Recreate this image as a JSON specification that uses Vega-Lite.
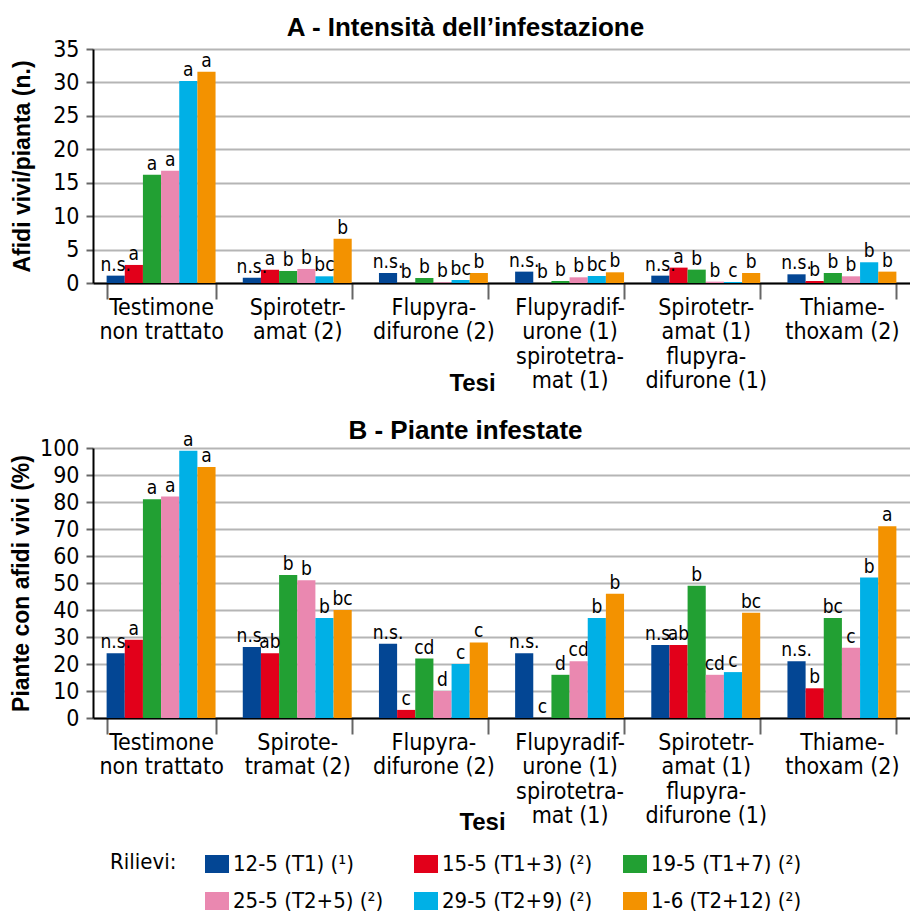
{
  "$schema": "https://vega.github.io/schema/vega-lite/v6.json",
  "padding": {"left": 10, "top": 15, "right": 0, "bottom": 0},
  "background": "white",
  "spacing": 22,
  "config": {
    "font": "DejaVu Sans Condensed",
    "view": {"stroke": null},
    "axis": {
      "labelFont": "DejaVu Sans Condensed",
      "titleFont": "Liberation Sans",
      "labelColor": "black",
      "titleColor": "black",
      "titleFontWeight": "bold",
      "domainColor": "black",
      "domainWidth": 2,
      "tickColor": "#666666",
      "tickWidth": 2,
      "gridColor": "#b5b5b5",
      "gridWidth": 2
    },
    "axisX": {
      "labelFontSize": 23,
      "titleFontSize": 24,
      "tickBand": "extent",
      "tickSize": 16,
      "labelAngle": 0,
      "labelPadding": -3,
      "labelBaseline": "top",
      "labelLineHeight": 24.5,
      "labelExpr": "datum.value ? split(datum.value, '|') : ''",
      "grid": false
    },
    "axisY": {
      "labelFontSize": 23,
      "titleFontSize": 23,
      "tickSize": 7,
      "labelPadding": 7,
      "grid": true
    },
    "title": {
      "font": "Liberation Sans",
      "fontSize": 26,
      "fontWeight": "bold",
      "color": "black",
      "anchor": "middle"
    }
  },
  "datasets": {
    "A": [
      {"Tesi": "Testimone|non trattato", "Rilievo": "12-5 (T1) (¹)", "v": 1.1, "sig": "n.s."},
      {"Tesi": "Testimone|non trattato", "Rilievo": "15-5 (T1+3) (²)", "v": 2.7, "sig": "a"},
      {"Tesi": "Testimone|non trattato", "Rilievo": "19-5 (T1+7) (²)", "v": 16.2, "sig": "a"},
      {"Tesi": "Testimone|non trattato", "Rilievo": "25-5 (T2+5) (²)", "v": 16.8, "sig": "a"},
      {"Tesi": "Testimone|non trattato", "Rilievo": "29-5 (T2+9) (²)", "v": 30.2, "sig": "a"},
      {"Tesi": "Testimone|non trattato", "Rilievo": "1-6 (T2+12) (²)", "v": 31.6, "sig": "a"},
      {"Tesi": "Spirotetr-|amat (2)", "Rilievo": "12-5 (T1) (¹)", "v": 0.8, "sig": "n.s."},
      {"Tesi": "Spirotetr-|amat (2)", "Rilievo": "15-5 (T1+3) (²)", "v": 2.0, "sig": "a"},
      {"Tesi": "Spirotetr-|amat (2)", "Rilievo": "19-5 (T1+7) (²)", "v": 1.8, "sig": "b"},
      {"Tesi": "Spirotetr-|amat (2)", "Rilievo": "25-5 (T2+5) (²)", "v": 2.1, "sig": "b"},
      {"Tesi": "Spirotetr-|amat (2)", "Rilievo": "29-5 (T2+9) (²)", "v": 1.0, "sig": "bc"},
      {"Tesi": "Spirotetr-|amat (2)", "Rilievo": "1-6 (T2+12) (²)", "v": 6.6, "sig": "b"},
      {"Tesi": "Flupyra-|difurone (2)", "Rilievo": "12-5 (T1) (¹)", "v": 1.5, "sig": "n.s."},
      {"Tesi": "Flupyra-|difurone (2)", "Rilievo": "15-5 (T1+3) (²)", "v": 0, "sig": "b"},
      {"Tesi": "Flupyra-|difurone (2)", "Rilievo": "19-5 (T1+7) (²)", "v": 0.75, "sig": "b"},
      {"Tesi": "Flupyra-|difurone (2)", "Rilievo": "25-5 (T2+5) (²)", "v": 0.1, "sig": "b"},
      {"Tesi": "Flupyra-|difurone (2)", "Rilievo": "29-5 (T2+9) (²)", "v": 0.45, "sig": "bc"},
      {"Tesi": "Flupyra-|difurone (2)", "Rilievo": "1-6 (T2+12) (²)", "v": 1.5, "sig": "b"},
      {"Tesi": "Flupyradif-|urone (1)|spirotetra-|mat (1)", "Rilievo": "12-5 (T1) (¹)", "v": 1.7, "sig": "n.s."},
      {"Tesi": "Flupyradif-|urone (1)|spirotetra-|mat (1)", "Rilievo": "15-5 (T1+3) (²)", "v": 0, "sig": "b"},
      {"Tesi": "Flupyradif-|urone (1)|spirotetra-|mat (1)", "Rilievo": "19-5 (T1+7) (²)", "v": 0.3, "sig": "b"},
      {"Tesi": "Flupyradif-|urone (1)|spirotetra-|mat (1)", "Rilievo": "25-5 (T2+5) (²)", "v": 0.85, "sig": "b"},
      {"Tesi": "Flupyradif-|urone (1)|spirotetra-|mat (1)", "Rilievo": "29-5 (T2+9) (²)", "v": 1.05, "sig": "bc"},
      {"Tesi": "Flupyradif-|urone (1)|spirotetra-|mat (1)", "Rilievo": "1-6 (T2+12) (²)", "v": 1.6, "sig": "b"},
      {"Tesi": "Spirotetr-|amat (1)|flupyra-|difurone (1)", "Rilievo": "12-5 (T1) (¹)", "v": 1.1, "sig": "n.s."},
      {"Tesi": "Spirotetr-|amat (1)|flupyra-|difurone (1)", "Rilievo": "15-5 (T1+3) (²)", "v": 2.3, "sig": "a"},
      {"Tesi": "Spirotetr-|amat (1)|flupyra-|difurone (1)", "Rilievo": "19-5 (T1+7) (²)", "v": 2.0, "sig": "b"},
      {"Tesi": "Spirotetr-|amat (1)|flupyra-|difurone (1)", "Rilievo": "25-5 (T2+5) (²)", "v": 0.2, "sig": "b"},
      {"Tesi": "Spirotetr-|amat (1)|flupyra-|difurone (1)", "Rilievo": "29-5 (T2+9) (²)", "v": 0.15, "sig": "c"},
      {"Tesi": "Spirotetr-|amat (1)|flupyra-|difurone (1)", "Rilievo": "1-6 (T2+12) (²)", "v": 1.5, "sig": "b"},
      {"Tesi": "Thiame-|thoxam (2)", "Rilievo": "12-5 (T1) (¹)", "v": 1.3, "sig": "n.s."},
      {"Tesi": "Thiame-|thoxam (2)", "Rilievo": "15-5 (T1+3) (²)", "v": 0.3, "sig": "b"},
      {"Tesi": "Thiame-|thoxam (2)", "Rilievo": "19-5 (T1+7) (²)", "v": 1.5, "sig": "b"},
      {"Tesi": "Thiame-|thoxam (2)", "Rilievo": "25-5 (T2+5) (²)", "v": 1.0, "sig": "b"},
      {"Tesi": "Thiame-|thoxam (2)", "Rilievo": "29-5 (T2+9) (²)", "v": 3.1, "sig": "b"},
      {"Tesi": "Thiame-|thoxam (2)", "Rilievo": "1-6 (T2+12) (²)", "v": 1.7, "sig": "b"}
    ],
    "B": [
      {"Tesi": "Testimone|non trattato", "Rilievo": "12-5 (T1) (¹)", "v": 24, "sig": "n.s."},
      {"Tesi": "Testimone|non trattato", "Rilievo": "15-5 (T1+3) (²)", "v": 29, "sig": "a"},
      {"Tesi": "Testimone|non trattato", "Rilievo": "19-5 (T1+7) (²)", "v": 81, "sig": "a"},
      {"Tesi": "Testimone|non trattato", "Rilievo": "25-5 (T2+5) (²)", "v": 82, "sig": "a"},
      {"Tesi": "Testimone|non trattato", "Rilievo": "29-5 (T2+9) (²)", "v": 99, "sig": "a"},
      {"Tesi": "Testimone|non trattato", "Rilievo": "1-6 (T2+12) (²)", "v": 93, "sig": "a"},
      {"Tesi": "Spirote-|tramat (2)", "Rilievo": "12-5 (T1) (¹)", "v": 26.3, "sig": "n.s."},
      {"Tesi": "Spirote-|tramat (2)", "Rilievo": "15-5 (T1+3) (²)", "v": 24, "sig": "ab"},
      {"Tesi": "Spirote-|tramat (2)", "Rilievo": "19-5 (T1+7) (²)", "v": 53, "sig": "b"},
      {"Tesi": "Spirote-|tramat (2)", "Rilievo": "25-5 (T2+5) (²)", "v": 51, "sig": "b"},
      {"Tesi": "Spirote-|tramat (2)", "Rilievo": "29-5 (T2+9) (²)", "v": 37, "sig": "b"},
      {"Tesi": "Spirote-|tramat (2)", "Rilievo": "1-6 (T2+12) (²)", "v": 40, "sig": "bc"},
      {"Tesi": "Flupyra-|difurone (2)", "Rilievo": "12-5 (T1) (¹)", "v": 27.5, "sig": "n.s."},
      {"Tesi": "Flupyra-|difurone (2)", "Rilievo": "15-5 (T1+3) (²)", "v": 3, "sig": "c"},
      {"Tesi": "Flupyra-|difurone (2)", "Rilievo": "19-5 (T1+7) (²)", "v": 22, "sig": "cd"},
      {"Tesi": "Flupyra-|difurone (2)", "Rilievo": "25-5 (T2+5) (²)", "v": 10, "sig": "d"},
      {"Tesi": "Flupyra-|difurone (2)", "Rilievo": "29-5 (T2+9) (²)", "v": 20, "sig": "c"},
      {"Tesi": "Flupyra-|difurone (2)", "Rilievo": "1-6 (T2+12) (²)", "v": 28, "sig": "c"},
      {"Tesi": "Flupyradif-|urone (1)|spirotetra-|mat (1)", "Rilievo": "12-5 (T1) (¹)", "v": 24, "sig": "n.s."},
      {"Tesi": "Flupyradif-|urone (1)|spirotetra-|mat (1)", "Rilievo": "15-5 (T1+3) (²)", "v": 0, "sig": "c"},
      {"Tesi": "Flupyradif-|urone (1)|spirotetra-|mat (1)", "Rilievo": "19-5 (T1+7) (²)", "v": 16, "sig": "d"},
      {"Tesi": "Flupyradif-|urone (1)|spirotetra-|mat (1)", "Rilievo": "25-5 (T2+5) (²)", "v": 21, "sig": "cd"},
      {"Tesi": "Flupyradif-|urone (1)|spirotetra-|mat (1)", "Rilievo": "29-5 (T2+9) (²)", "v": 37, "sig": "b"},
      {"Tesi": "Flupyradif-|urone (1)|spirotetra-|mat (1)", "Rilievo": "1-6 (T2+12) (²)", "v": 46, "sig": "b"},
      {"Tesi": "Spirotetr-|amat (1)|flupyra-|difurone (1)", "Rilievo": "12-5 (T1) (¹)", "v": 27, "sig": "n.s."},
      {"Tesi": "Spirotetr-|amat (1)|flupyra-|difurone (1)", "Rilievo": "15-5 (T1+3) (²)", "v": 27, "sig": "ab"},
      {"Tesi": "Spirotetr-|amat (1)|flupyra-|difurone (1)", "Rilievo": "19-5 (T1+7) (²)", "v": 49, "sig": "b"},
      {"Tesi": "Spirotetr-|amat (1)|flupyra-|difurone (1)", "Rilievo": "25-5 (T2+5) (²)", "v": 16, "sig": "cd"},
      {"Tesi": "Spirotetr-|amat (1)|flupyra-|difurone (1)", "Rilievo": "29-5 (T2+9) (²)", "v": 17, "sig": "c"},
      {"Tesi": "Spirotetr-|amat (1)|flupyra-|difurone (1)", "Rilievo": "1-6 (T2+12) (²)", "v": 39, "sig": "bc"},
      {"Tesi": "Thiame-|thoxam (2)", "Rilievo": "12-5 (T1) (¹)", "v": 21, "sig": "n.s."},
      {"Tesi": "Thiame-|thoxam (2)", "Rilievo": "15-5 (T1+3) (²)", "v": 11, "sig": "b"},
      {"Tesi": "Thiame-|thoxam (2)", "Rilievo": "19-5 (T1+7) (²)", "v": 37, "sig": "bc"},
      {"Tesi": "Thiame-|thoxam (2)", "Rilievo": "25-5 (T2+5) (²)", "v": 26, "sig": "c"},
      {"Tesi": "Thiame-|thoxam (2)", "Rilievo": "29-5 (T2+9) (²)", "v": 52, "sig": "b"},
      {"Tesi": "Thiame-|thoxam (2)", "Rilievo": "1-6 (T2+12) (²)", "v": 71, "sig": "a"}
    ]
  },
  "resolve": {"scale": {"color": "shared"}},
  "vconcat": [
    {
      "title": {"text": "A - Intensità dell’infestazione", "dx": -36, "offset": -3},
      "width": 817,
      "height": 234,
      "data": {"name": "A"},
      "encoding": {
        "x": {
          "field": "Tesi", "type": "nominal", "sort": null,
          "scale": {"paddingInner": 0.2, "paddingOuter": 0.1},
          "axis": {"title": "Tesi", "titleX": 379, "titleY": 88}
        },
        "xOffset": {"field": "Rilievo", "type": "nominal",
          "sort": ["12-5 (T1) (¹)", "15-5 (T1+3) (²)", "19-5 (T1+7) (²)", "25-5 (T2+5) (²)", "29-5 (T2+9) (²)", "1-6 (T2+12) (²)"]},
        "y": {
          "field": "v", "type": "quantitative",
          "scale": {"domain": [0, 35]},
          "axis": {"title": "Afidi vivi/pianta (n.)", "values": [0, 5, 10, 15, 20, 25, 30, 35], "titlePadding": 18}
        }
      },
      "layer": [
        {
          "mark": {"type": "bar"},
          "encoding": {
            "color": {
              "field": "Rilievo", "type": "nominal",
              "scale": {
                "domain": ["12-5 (T1) (¹)", "15-5 (T1+3) (²)", "19-5 (T1+7) (²)", "25-5 (T2+5) (²)", "29-5 (T2+9) (²)", "1-6 (T2+12) (²)"],
                "range": ["#034694", "#e2001a", "#22a033", "#ea88b0", "#00b0e6", "#f39200"]
              },
              "legend": {
                "orient": "none",
                "legendX": 17,
                "legendY": 803,
                "direction": "horizontal",
                "columns": 3,
                "title": "Rilievi:",
                "titleOrient": "left",
                "titleAnchor": "start",
                "titleFontWeight": "normal",
                "titleFontSize": 22,
                "titleFont": "DejaVu Sans Condensed",
                "titlePadding": 28,
                "labelFontSize": 22,
                "labelFont": "DejaVu Sans Condensed",
                "labelColor": "black",
                "titleColor": "black",
                "symbolType": "M-1,-0.75L1,-0.75L1,0.75L-1,0.75Z",
                "symbolSize": 576,
                "symbolStrokeWidth": 0,
                "labelOffset": 4,
                "rowPadding": 14,
                "columnPadding": 30
              }
            }
          }
        },
        {
          "mark": {"type": "text", "baseline": "bottom", "dy": -1, "fontSize": 19, "font": "DejaVu Sans Condensed", "color": "black"},
          "encoding": {"text": {"field": "sig"}}
        }
      ]
    },
    {
      "title": {"text": "B - Piante infestate", "dx": -36, "offset": -13},
      "width": 817,
      "height": 270,
      "data": {"name": "B"},
      "encoding": {
        "x": {
          "field": "Tesi", "type": "nominal", "sort": null,
          "scale": {"paddingInner": 0.2, "paddingOuter": 0.1},
          "axis": {"title": "Tesi", "titleX": 389, "titleY": 92}
        },
        "xOffset": {"field": "Rilievo", "type": "nominal",
          "sort": ["12-5 (T1) (¹)", "15-5 (T1+3) (²)", "19-5 (T1+7) (²)", "25-5 (T2+5) (²)", "29-5 (T2+9) (²)", "1-6 (T2+12) (²)"]},
        "y": {
          "field": "v", "type": "quantitative",
          "scale": {"domain": [0, 100]},
          "axis": {"title": "Piante con afidi vivi (%)", "values": [0, 10, 20, 30, 40, 50, 60, 70, 80, 90, 100], "titlePadding": 6}
        }
      },
      "layer": [
        {
          "mark": {"type": "bar"},
          "encoding": {
            "color": {"field": "Rilievo", "type": "nominal"}
          }
        },
        {
          "mark": {"type": "text", "baseline": "bottom", "dy": -1, "fontSize": 19, "font": "DejaVu Sans Condensed", "color": "black"},
          "encoding": {"text": {"field": "sig"}}
        }
      ]
    }
  ]
}
